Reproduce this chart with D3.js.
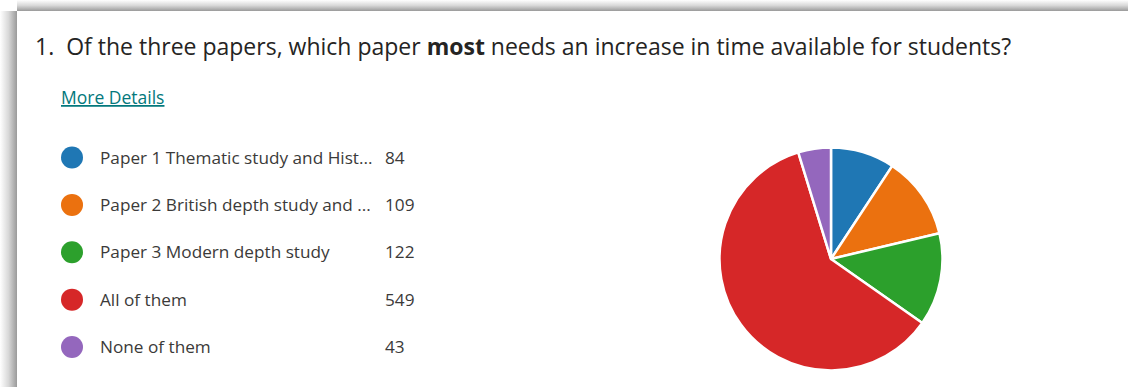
<html>
<head>
<script src="https://d3js.org/d3.v7.min.js"></script>
<style>
  html, body { margin:0; padding:0; background:#fff; }
  svg text { font-family: "Segoe UI", "Open Sans", "Noto Sans", sans-serif; }
</style>
</head>
<body>
<svg id="chart" width="1128" height="387"></svg>
<script>
// data
const labels = ["Paper 1 Thematic study and Hist...", "Paper 2 British depth study and ...",
                "Paper 3 Modern depth study", "All of them", "None of them"];
const counts = [84, 109, 122, 549, 43];
const colors = ["#1f77b4", "#eb710f", "#2ca02c", "#d62728", "#9467bd"];

const svg = d3.select("svg#chart");
const W = 1128, H = 387;

// card shadow on left and top
const defs = svg.append("defs");
const gl = defs.append("linearGradient").attr("id","shadowL").attr("x1","0").attr("x2","1");
gl.append("stop").attr("offset","0").attr("stop-color","#ffffff");
gl.append("stop").attr("offset","0.5").attr("stop-color","#d8d8d8");
gl.append("stop").attr("offset","1").attr("stop-color","#9a9a9a");
const gt = defs.append("linearGradient").attr("id","shadowT").attr("x1","0").attr("x2","0").attr("y1","0").attr("y2","1");
gt.append("stop").attr("offset","0").attr("stop-color","#ffffff");
gt.append("stop").attr("offset","0.5").attr("stop-color","#d8d8d8");
gt.append("stop").attr("offset","1").attr("stop-color","#9a9a9a");

svg.append("rect").attr("x",0).attr("y",0).attr("width",W).attr("height",H).attr("fill","#fff");
svg.append("rect").attr("x",0).attr("y",11).attr("width",17).attr("height",H-11).attr("fill","url(#shadowL)");
svg.append("rect").attr("x",17).attr("y",0).attr("width",W-17).attr("height",11).attr("fill","url(#shadowT)");

// title
const title = svg.append("text")
    .attr("x", 35).attr("y", 55)
    .attr("font-size", 23)
    .attr("fill", "#252423");
title.append("tspan").text("1.\u00a0\u00a0Of the three papers, which paper ");
title.append("tspan").attr("font-weight","bold").text("most");
title.append("tspan").text(" needs an increase in time available for students?");

// more details link
svg.append("text")
    .attr("x", 61).attr("y", 104)
    .attr("font-size", 17.5)
    .attr("fill", "#03787c")
    .attr("text-decoration", "underline")
    .text("More Details");

// legend
const rowY = d3.scaleLinear().domain([0, 4]).range([157.5, 347]);
const legend = svg.append("g");
labels.forEach((lab, i) => {
    legend.append("circle")
        .attr("cx", 72).attr("cy", rowY(i)).attr("r", 11)
        .attr("fill", colors[i]);
    legend.append("text")
        .attr("x", 100).attr("y", rowY(i) + 6)
        .attr("font-size", 17.2)
        .attr("fill", "#3b3a39")
        .text(lab);
    legend.append("text")
        .attr("x", 385).attr("y", rowY(i) + 6)
        .attr("font-size", 17.2)
        .attr("fill", "#3b3a39")
        .text(counts[i]);
});

// pie
const pie = d3.pie().sort(null).value(d => d);
const arc = d3.arc().innerRadius(0).outerRadius(111.5);
const pieG = svg.append("g").attr("transform", "translate(831,259)");
pieG.selectAll("path")
    .data(pie(counts))
    .join("path")
    .attr("d", arc)
    .attr("fill", (d, i) => colors[i])
    .attr("stroke", "#fff")
    .attr("stroke-width", 2.5)
    .attr("stroke-linejoin", "round");
</script>
</body>
</html>
